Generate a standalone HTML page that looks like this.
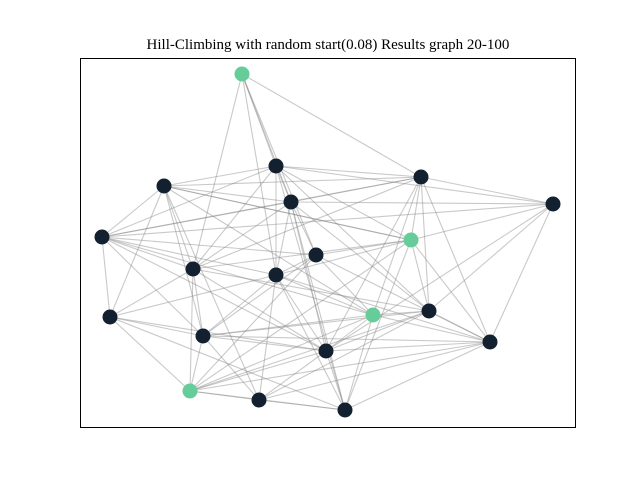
<!DOCTYPE html>
<html><head><meta charset="utf-8"><style>
body{margin:0;background:#fff;}
svg{display:block;}
</style></head><body>
<svg id="chart" width="640" height="480">
<text x="328" y="49" text-anchor="middle" font-family="'Liberation Serif', serif" font-size="15" fill="#000">Hill-Climbing with random start(0.08) Results graph 20-100</text>
<rect x="80.5" y="58.5" width="495" height="369" fill="none" stroke="#000" stroke-width="1"/>
<g id="edges"></g>
<g id="nodes"></g>
</svg>
<script>
const nodeX = [242,276,164,291,421,553,411,102,316,193,276,110,373,429,203,326,490,190,259,345];
const nodeY = [74,166,186,202,177,204,240,237,255,269,275,317,315,311,336,351,342,391,400,410];
const nodeGroup = [1,0,0,0,0,0,1,0,0,0,0,0,1,0,0,0,0,1,0,0];
const edgeFrom = [0,0,0,0,0,0, 1,1,1,1,1,1,1,1,1,1, 2,2,2,2,2,2,2,2,2, 3,3,3,3,3,3,3,3,3, 4,4,4,4,4,4,4,4, 5,5,5,5,5, 6,6,6,6,6,6,6, 7,7,7,7,7,7,7, 8,8,8,8,8, 9,9,9,9,9,9, 10,10,10,10,10,10,10, 11,11,11,11, 12,12,12,12,12,12, 13,13,13,13,13, 14,14,14,14, 15,15,15,15, 16,16,16, 17,17, 18];
const edgeTo   = [4,1,3,10,9,8, 2,4,5,3,10,7,6,13,9,19, 7,4,3,9,11,14,18,6,12, 4,5,7,9,8,15,19,10,13, 5,6,9,12,13,16,15,7, 6,7,13,16,15, 8,17,10,19,13,16,2, 9,8,11,14,12,10,15, 10,12,16,17,14, 11,14,17,13,15,6, 18,11,12,15,19,16,14, 14,17,19,15, 13,14,17,15,19,16, 16,15,17,18,14, 17,18,15,16, 17,16,19,18, 18,19,17, 18,19, 19];
const NS='http://www.w3.org/2000/svg';
const eg=document.getElementById('edges'), ng=document.getElementById('nodes');
for(let i=0;i<edgeFrom.length;i++){
  const l=document.createElementNS(NS,'line');
  l.setAttribute('x1',nodeX[edgeFrom[i]]);l.setAttribute('y1',nodeY[edgeFrom[i]]);
  l.setAttribute('x2',nodeX[edgeTo[i]]);l.setAttribute('y2',nodeY[edgeTo[i]]);
  l.setAttribute('stroke','#888');l.setAttribute('stroke-opacity','0.45');l.setAttribute('stroke-width','1.1');
  
  
  eg.appendChild(l);
}
for(let i=0;i<nodeX.length;i++){
  const c=document.createElementNS(NS,'circle');
  c.setAttribute('cx',nodeX[i]);c.setAttribute('cy',nodeY[i]);c.setAttribute('r','7.5');
  c.setAttribute('fill',nodeGroup[i]?'#66cc99':'#132030');
  
  
  ng.appendChild(c);
}
</script>
</body></html>
